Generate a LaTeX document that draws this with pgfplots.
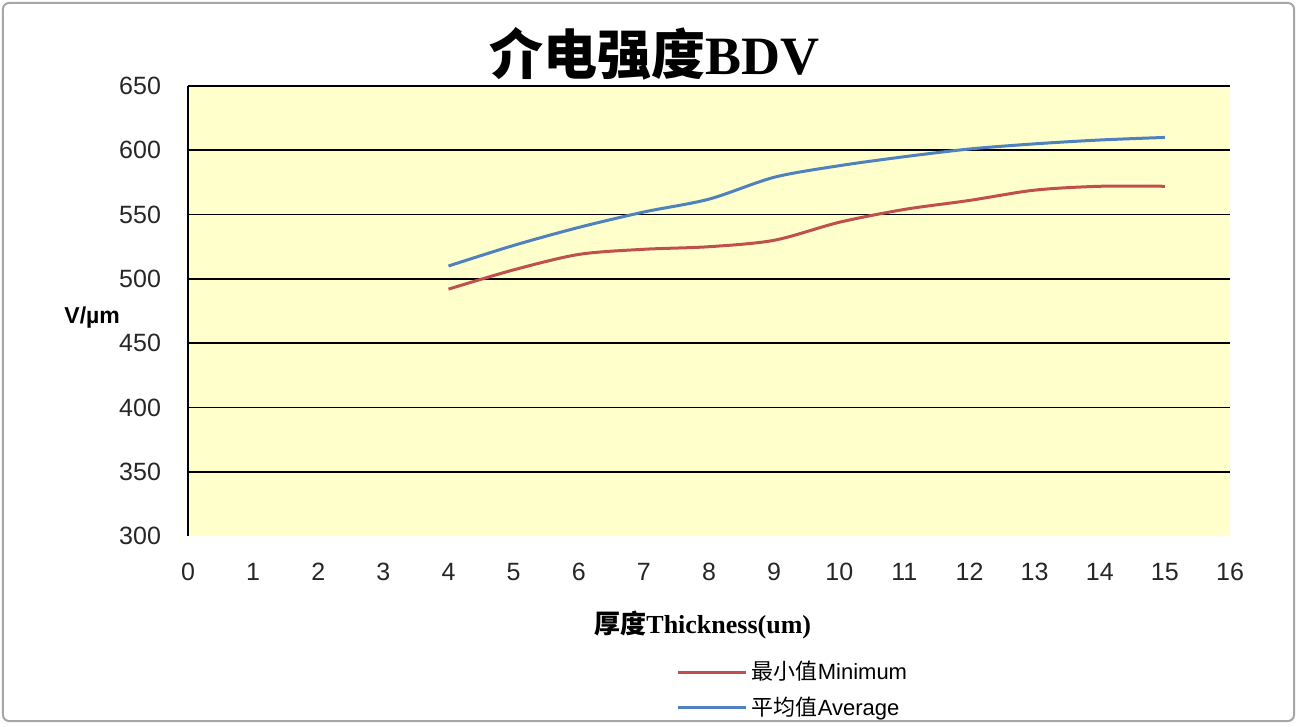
\documentclass[border=0pt]{standalone}
\usepackage{pgfplots}
\pgfplotsset{compat=1.18}
\usepackage{fontspec}
\setmainfont{Liberation Sans}
\newfontfamily\cjk{Noto Sans CJK SC}
\newfontfamily\serif{Liberation Serif}
\definecolor{bgy}{HTML}{FFFFCC}
\definecolor{minred}{HTML}{C0504D}
\definecolor{avgblue}{HTML}{4F81BD}
\begin{document}
\begin{tikzpicture}
\path (-94pt,-94pt) rectangle (558pt,268pt);
\draw[gray!70, line width=1pt, rounded corners=3pt] (-92.5pt,-92.5pt) rectangle (553pt,266.5pt);
\begin{axis}[
  scale only axis,
  width=521pt, height=225pt,
  xmin=0, xmax=16, ymin=300, ymax=650,
  xtick={0,1,...,16},
  ytick={350,400,...,650},
  extra y ticks={300},
  extra y tick style={grid=none},
  ymajorgrids,
  grid style={black, line width=0.8pt},
  axis x line*=bottom,
  x axis line style={draw=none},
  axis y line*=left,
  y axis line style={black, line width=0.9pt, -},
  major tick length=0pt,
  axis background/.style={fill=bgy},
  tick label style={font=\fontsize{12.5}{14}\selectfont, text=black!85},
  yticklabel style={xshift=-10pt},
  xticklabel style={yshift=-10pt},
  /pgf/number format/assume math mode=true,
  title={{\cjk\bfseries 介电强度}{\serif\bfseries BDV}},
  title style={at={(axis description cs:0.448,1)}, anchor=center, yshift=10pt, font=\fontsize{27}{30}\selectfont},
  ylabel={\bfseries V/\textmu m},
  every axis y label/.style={at={(axis description cs:-0.092,0.486)}, anchor=center, font=\fontsize{11.5}{13}\selectfont},
  xlabel={{\cjk\bfseries 厚度}{\serif\bfseries Thickness(um)}},
  every axis x label/.style={at={(axis description cs:0.494,0)}, anchor=center, yshift=-44.5pt, font=\fontsize{13}{15}\selectfont},
  legend style={at={(axis description cs:0.463,-0.26)}, anchor=north west, draw=none, fill=none, font=\fontsize{11}{13}\selectfont, row sep=3pt},
  legend cell align=left,
  legend image code/.code={\draw[#1, line width=1.5pt] (0pt,0pt) -- (34pt,0pt);},
]
\addplot[minred, line width=1.5pt, smooth, tension=0.5] coordinates {
(4,492) (5,507) (6,519) (7,523) (8,525) (9,530) (10,544) (11,554) (12,561) (13,569) (14,572) (15,572)};
\addlegendentry{{\cjk 最小值}Minimum}
\addplot[avgblue, line width=1.5pt, smooth, tension=0.5] coordinates {
(4,510) (5,526) (6,540) (7,552) (8,562) (9,579) (10,588) (11,595) (12,601) (13,605) (14,608) (15,610)};
\addlegendentry{{\cjk 平均值}Average}
\end{axis}
\end{tikzpicture}
\end{document}
